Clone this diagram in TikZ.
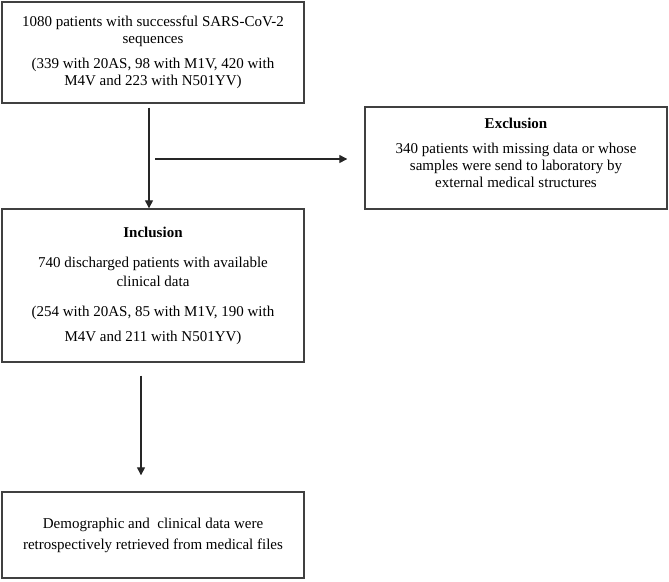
\documentclass[tikz,border=0pt]{standalone}
\usepackage{fontspec}
\setmainfont{Liberation Serif}
\usetikzlibrary{arrows.meta}
\tikzset{
  box/.style={draw=black!75, line width=1.4pt, rectangle, minimum width=302pt,
    align=center, inner sep=0pt, font=\fontsize{15}{17}\selectfont},
  conn/.style={draw=black!85, line width=1.3pt, -{Triangle[length=8pt,width=8pt]}},
}
\begin{document}
\begin{tikzpicture}[x=1pt,y=-1pt]
\useasboundingbox (0,0) rectangle (669,581);
\node[box, minimum height=101pt] (seq) at (153,52.5)
  {1080 patients with successful SARS-CoV-2\\ sequences\\[8pt]
   (339 with 20AS, 98 with M1V, 420 with\\ M4V and 223 with N501YV)};
\node[box, minimum height=102pt] (excl) at (516,158)
  {\textbf{Exclusion}\\[8pt]
   340 patients with missing data or whose\\
   samples were send to laboratory by\\
   external medical structures\\[-6pt]\mbox{}};
\node[box, minimum height=153pt] (incl) at (153,285.5)
  {\textbf{Inclusion}\\[13pt]
   740 discharged patients with available\\[2pt] clinical data\\[13pt]
   (254 with 20AS, 85 with M1V, 190 with\\[8pt] M4V and 211 with N501YV)};
\node[box, minimum height=86pt] (demo) at (153,535)
  {Demographic and~ clinical data were\\[4pt]
   retrospectively retrieved from medical files};
\coordinate (split) at (155,159);
\draw[conn] ([xshift=-4pt,yshift=-4pt]seq.south) -- ([xshift=-4pt]incl.north);
\draw[conn, shorten >=17pt] (split) -- (split -| excl.west);
\draw[conn] ([xshift=-12pt,yshift=-13pt]incl.south) -- ([xshift=-12pt,yshift=16pt]demo.north);
\end{tikzpicture}
\end{document}
